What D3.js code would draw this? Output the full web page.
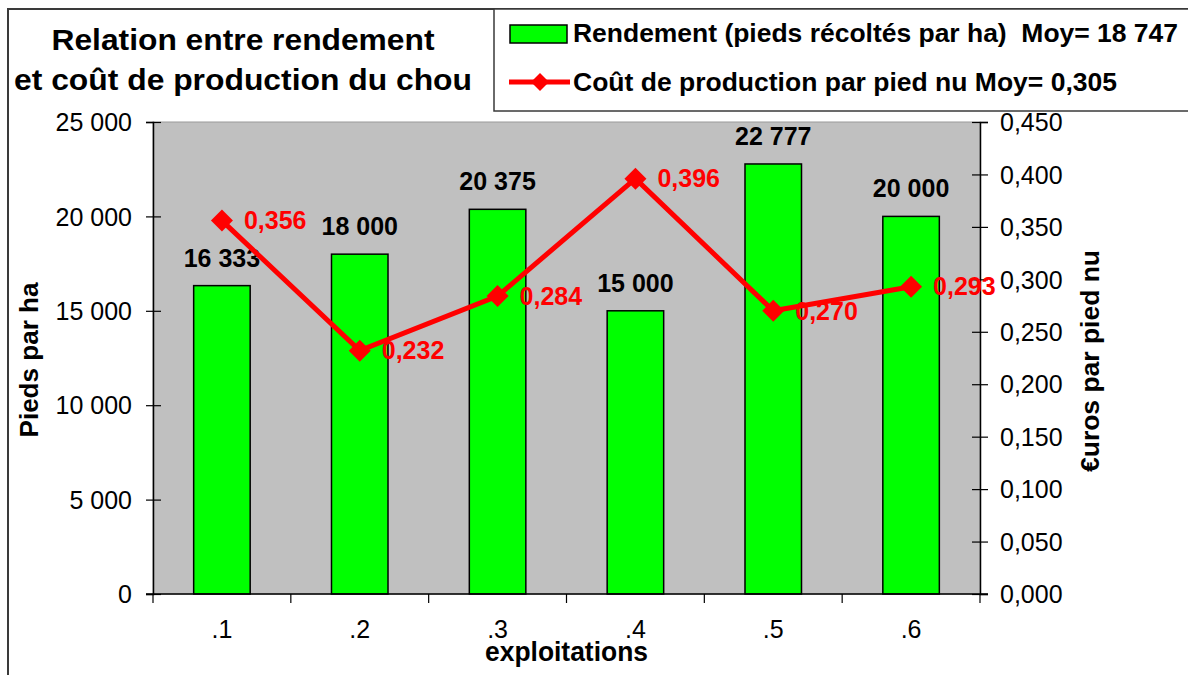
<!DOCTYPE html>
<html>
<head>
<meta charset="utf-8">
<script src="https://cdn.jsdelivr.net/npm/d3@7"></script>
<style>
  body { margin: 0; background: #fff; }
  svg { display: block; font-family: "Liberation Sans", Arial, sans-serif; }
  text { white-space: pre; }
</style>
</head>
<body>
<div id="chart"></div>
<script>
// data
var categories = [".1", ".2", ".3", ".4", ".5", ".6"];
var rendement = [16333, 18000, 20375, 15000, 22777, 20000];
var cout = [0.356, 0.232, 0.284, 0.396, 0.270, 0.293];
var leftTicks = [0, 5000, 10000, 15000, 20000, 25000];
var rightTicks = [0, 0.05, 0.1, 0.15, 0.2, 0.25, 0.3, 0.35, 0.4, 0.45];
var titleLines = ["Relation entre rendement", "et coût de production du chou"];
var legendLabels = ["Rendement (pieds récoltés par ha)  Moy= 18 747",
                    "Coût de production par pied nu Moy= 0,305"];

var width = 1188, height = 675;
var plot = { left: 153, right: 980, top: 122, bottom: 594 };

var fr = d3.formatLocale({ decimal: ",", thousands: " ", grouping: [3], currency: ["", " €"] });
var fmtInt = fr.format(",d");
var fmtDec = fr.format(".3f");

var svg = d3.select("#chart").append("svg")
    .attr("width", width)
    .attr("height", height);

// outer chart border (cropped on the right and bottom)
svg.append("rect")
    .attr("x", 8).attr("y", 9)
    .attr("width", 1300).attr("height", 800)
    .attr("fill", "none").attr("stroke", "#3a3a3a").attr("stroke-width", 2);

var x = d3.scaleBand()
    .domain(categories)
    .range([plot.left, plot.right])
    .paddingInner(0.59).paddingOuter(0.295);
var xb = d3.scaleBand().domain(categories).range([plot.left, plot.right]);

var yL = d3.scaleLinear().domain([0, 25000]).range([plot.bottom, plot.top]);
var yR = d3.scaleLinear().domain([0, 0.45]).range([plot.bottom, plot.top]);

// plot area
svg.append("rect")
    .attr("x", plot.left).attr("y", plot.top)
    .attr("width", plot.right - plot.left).attr("height", plot.bottom - plot.top)
    .attr("fill", "#c0c0c0").attr("stroke", "#9a9a9a").attr("stroke-width", 1);

// bars
svg.append("g").selectAll("rect")
    .data(rendement)
    .enter().append("rect")
    .attr("x", function (d, i) { return x(categories[i]); })
    .attr("y", function (d) { return yL(d); })
    .attr("width", x.bandwidth())
    .attr("height", function (d) { return plot.bottom - yL(d); })
    .attr("fill", "#00ff00")
    .attr("stroke", "#000").attr("stroke-width", 1.5);

// bar labels
svg.append("g").selectAll("text")
    .data(rendement)
    .enter().append("text")
    .attr("x", function (d, i) { return xb(categories[i]) + xb.bandwidth() / 2; })
    .attr("y", function (d) { return yL(d) - 19; })
    .attr("text-anchor", "middle")
    .attr("font-size", 25).attr("font-weight", "bold")
    .text(function (d) { return fmtInt(d); });

// left axis
var axL = svg.append("g")
    .attr("transform", "translate(" + plot.left + ",0)")
    .call(d3.axisLeft(yL).tickValues(leftTicks).tickFormat(fmtInt).tickSize(7));
axL.select(".domain").attr("stroke", "#000").attr("stroke-width", 1.5);
axL.selectAll(".tick line").attr("x1", 8).attr("x2", -7).attr("stroke-width", 1.2);
axL.selectAll(".tick text")
    .attr("x", -21).attr("dy", "0.35em")
    .attr("font-size", 25).attr("font-family", null).attr("fill", "#000");

// right axis
var axR = svg.append("g")
    .attr("transform", "translate(" + plot.right + ",0)")
    .call(d3.axisRight(yR).tickValues(rightTicks).tickFormat(fmtDec).tickSize(8));
axR.select(".domain").attr("stroke", "#000").attr("stroke-width", 1.5);
axR.selectAll(".tick line").attr("x1", -8).attr("x2", 8).attr("stroke-width", 1.2);
axR.selectAll(".tick text")
    .attr("x", 20).attr("dy", "0.35em")
    .attr("font-size", 25).attr("font-family", null).attr("fill", "#000");

// bottom axis: ticks between categories
var axB = svg.append("g")
    .attr("transform", "translate(0," + plot.bottom + ")");
axB.append("line")
    .attr("x1", plot.left - 7).attr("x2", plot.right + 8)
    .attr("stroke", "#000").attr("stroke-width", 1.5);
axB.selectAll(".sep")
    .data(categories.concat([null]))
    .enter().append("line")
    .attr("x1", function (d, i) { return plot.left + i * xb.step(); })
    .attr("x2", function (d, i) { return plot.left + i * xb.step(); })
    .attr("y1", 0).attr("y2", 9)
    .attr("stroke", "#000").attr("stroke-width", 1.2);
axB.selectAll(".cat")
    .data(categories)
    .enter().append("text")
    .attr("x", function (d) { return xb(d) + xb.bandwidth() / 2; })
    .attr("y", 44)
    .attr("text-anchor", "middle")
    .attr("font-size", 25)
    .text(function (d) { return d; });

// cost line
var line = d3.line()
    .x(function (d, i) { return xb(categories[i]) + xb.bandwidth() / 2; })
    .y(function (d) { return yR(d); });

svg.append("path")
    .datum(cout)
    .attr("d", line)
    .attr("fill", "none")
    .attr("stroke", "#ff0000").attr("stroke-width", 5)
    .attr("stroke-linejoin", "miter");

function diamond(r) {
    return "M0," + (-r) + "L" + r + ",0L0," + r + "L" + (-r) + ",0Z";
}

svg.append("g").selectAll("path")
    .data(cout)
    .enter().append("path")
    .attr("d", diamond(11))
    .attr("transform", function (d, i) {
        return "translate(" + (xb(categories[i]) + xb.bandwidth() / 2) + "," + yR(d) + ")";
    })
    .attr("fill", "#ff0000");

svg.append("g").selectAll("text")
    .data(cout)
    .enter().append("text")
    .attr("x", function (d, i) { return xb(categories[i]) + xb.bandwidth() / 2 + 22; })
    .attr("y", function (d) { return yR(d); })
    .attr("dy", "0.35em")
    .attr("font-size", 25).attr("font-weight", "bold")
    .attr("fill", "#ff0000")
    .text(function (d) { return fmtDec(d); });

// axis titles
svg.append("text")
    .attr("transform", "translate(38,360) rotate(-90)")
    .attr("text-anchor", "middle")
    .attr("font-size", 25).attr("font-weight", "bold")
    .attr("textLength", 155).attr("lengthAdjust", "spacingAndGlyphs")
    .text("Pieds par ha");

svg.append("text")
    .attr("transform", "translate(1099,361) rotate(-90)")
    .attr("text-anchor", "middle")
    .attr("font-size", 25).attr("font-weight", "bold")
    .attr("textLength", 222).attr("lengthAdjust", "spacingAndGlyphs")
    .text("€uros par pied nu");

svg.append("text")
    .attr("x", xb(categories[3]))
    .attr("y", 661)
    .attr("text-anchor", "middle")
    .attr("font-size", 27).attr("font-weight", "bold")
    .attr("textLength", 163).attr("lengthAdjust", "spacingAndGlyphs")
    .text("exploitations");

// title
var titleWidths = [383, 458];
svg.append("g").selectAll("text")
    .data(titleLines)
    .enter().append("text")
    .attr("x", 243)
    .attr("y", function (d, i) { return 50 + i * 40; })
    .attr("text-anchor", "middle")
    .attr("font-size", 29).attr("font-weight", "bold")
    .attr("textLength", function (d, i) { return titleWidths[i]; })
    .attr("lengthAdjust", "spacingAndGlyphs")
    .text(function (d) { return d; });

// legend
var lg = svg.append("g");
lg.append("rect")
    .attr("x", 494).attr("y", 9)
    .attr("width", 800).attr("height", 102)
    .attr("fill", "#fff").attr("stroke", "#3a3a3a").attr("stroke-width", 1.5);
lg.append("rect")
    .attr("x", 510).attr("y", 25)
    .attr("width", 57).attr("height", 18)
    .attr("fill", "#00ff00").attr("stroke", "#000").attr("stroke-width", 1.5);
lg.append("line")
    .attr("x1", 509).attr("x2", 570)
    .attr("y1", 82).attr("y2", 82)
    .attr("stroke", "#ff0000").attr("stroke-width", 5);
lg.append("path")
    .attr("d", diamond(9))
    .attr("transform", "translate(540,82)")
    .attr("fill", "#ff0000");
var legendWidths = [605, 544];
lg.selectAll(".lt")
    .data(legendLabels)
    .enter().append("text")
    .attr("x", 573)
    .attr("y", function (d, i) { return 42 + i * 49; })
    .attr("font-size", 25).attr("font-weight", "bold")
    .attr("textLength", function (d, i) { return legendWidths[i]; })
    .attr("lengthAdjust", "spacingAndGlyphs")
    .text(function (d) { return d; });
</script>
</body>
</html>
